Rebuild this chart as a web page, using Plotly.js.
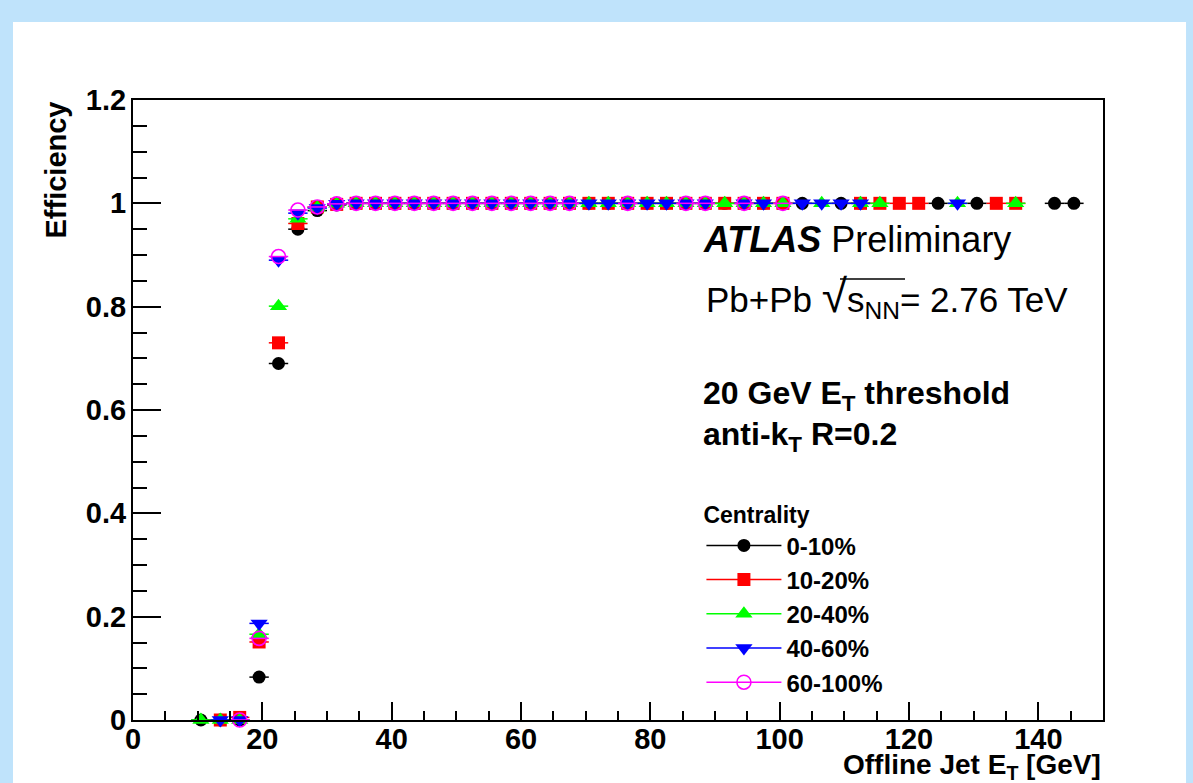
<!DOCTYPE html>
<html>
<head>
<meta charset="utf-8">
<script src="https://cdn.plot.ly/plotly-3.0.1.min.js"></script>
<style>
html,body{margin:0;padding:0;background:#bfe3fb;}
#chart{width:1193px;height:783px;}
</style>
</head>
<body>
<div id="chart"></div>
<script>
// ---- data ----
const seriesNames = ["0-10%", "10-20%", "20-40%", "40-60%", "60-100%"];
const seriesColors = ["#000000", "#ff0000", "#00ff00", "#0000ff", "#ff00ff"];
const seriesSymbols = ["circle", "square", "triangle-up", "triangle-down", "circle-open"];

// bin centres (GeV), bins are 3 GeV wide
const x_0_10 = [10.5,13.5,16.5,19.5,22.5,25.5,28.5,31.5,34.5,37.5,40.5,43.5,46.5,49.5,52.5,55.5,58.5,61.5,64.5,67.5,70.5,73.5,76.5,79.5,82.5,85.5,88.5,91.5,94.5,97.5,100.5,103.5,109.5,112.5,124.5,130.5,142.5,145.5];
const y_0_10 = [0,0,0,0.083,0.690,0.950,0.986,0.997,1,1,1,1,1,1,1,1,1,1,1,1,1,1,1,1,1,1,1,1,1,1,1,1,1,1,1,1,1,1];

const x_10_20 = [13.5,16.5,19.5,22.5,25.5,28.5,31.5,34.5,37.5,40.5,43.5,46.5,49.5,52.5,55.5,58.5,61.5,64.5,67.5,70.5,73.5,76.5,79.5,82.5,85.5,88.5,91.5,94.5,97.5,100.5,112.5,115.5,118.5,121.5,133.5,136.5];
const y_10_20 = [0,0.005,0.151,0.730,0.961,0.993,0.998,1,1,1,1,1,1,1,1,1,1,1,1,1,1,1,1,1,1,1,1,1,1,1,1,1,1,1,1,1];

const x_20_40 = [10.5,13.5,16.5,19.5,22.5,25.5,28.5,31.5,34.5,37.5,40.5,43.5,46.5,49.5,52.5,55.5,58.5,61.5,64.5,67.5,70.5,73.5,76.5,79.5,82.5,85.5,88.5,91.5,94.5,97.5,100.5,106.5,112.5,115.5,127.5,136.5];
const y_20_40 = [0,0,0,0.166,0.801,0.970,0.992,0.999,1,1,1,1,1,1,1,1,1,1,1,1,1,1,1,1,1,1,1,1,1,1,1,1,1,1,1,1];

const x_40_60 = [13.5,16.5,19.5,22.5,25.5,28.5,31.5,34.5,37.5,40.5,43.5,46.5,49.5,52.5,55.5,58.5,61.5,64.5,67.5,70.5,73.5,76.5,79.5,82.5,85.5,88.5,94.5,97.5,103.5,106.5,109.5,112.5,127.5];
const y_40_60 = [0,0,0.187,0.890,0.981,0.991,0.999,1,1,1,1,1,1,1,1,1,1,1,1,1,1,1,1,1,1,1,1,1,1,1,1,1,1];

const x_60_100 = [16.5,19.5,22.5,25.5,28.5,31.5,34.5,37.5,40.5,43.5,46.5,49.5,52.5,55.5,58.5,61.5,64.5,67.5,76.5,85.5,88.5,94.5,100.5];
const y_60_100 = [0,0.158,0.897,0.987,0.993,0.999,1,1,1,1,1,1,1,1,1,1,1,1,1,1,1,1,1];

const binHalfWidth = 1.5;

const xs = [x_0_10, x_10_20, x_20_40, x_40_60, x_60_100];
const ys = [y_0_10, y_10_20, y_20_40, y_40_60, y_60_100];
const markerSizes = [13, 13, 15, 15, 14];

const FONT = "Liberation Sans, Arial, Helvetica, sans-serif";

const traces = [];
for (let i = 0; i < seriesNames.length; i++) {
  traces.push({
    type: "scatter", mode: "markers", name: seriesNames[i], showlegend: false,
    x: xs[i], y: ys[i],
    marker: {symbol: seriesSymbols[i], color: seriesColors[i], size: markerSizes[i],
             line: {color: seriesColors[i], width: seriesSymbols[i] === "circle-open" ? 1.6 : 0}},
    error_x: {type: "constant", value: binHalfWidth, color: seriesColors[i], thickness: 1.5, width: 0},
    cliponaxis: false
  });
}
// legend-only entries (marker + line, as in the reference legend)
for (let i = 0; i < seriesNames.length; i++) {
  traces.push({
    type: "scatter", mode: "lines+markers", name: seriesNames[i], showlegend: true,
    x: [null], y: [null],
    line: {color: seriesColors[i], width: 1.5},
    marker: {symbol: seriesSymbols[i], color: seriesColors[i], size: markerSizes[i],
             line: {color: seriesColors[i], width: seriesSymbols[i] === "circle-open" ? 1.6 : 0}}
  });
}

const axisCommon = {
  showgrid: false, zeroline: false, showline: true, linecolor: "#000", linewidth: 2,
  mirror: true, ticks: "inside", tickcolor: "#000", tickwidth: 2,
  tickfont: {family: FONT, size: 29, color: "#000", weight: "bold"}
};

const layout = {
  width: 1193, height: 783,
  margin: {l: 133, r: 90, t: 100, b: 63, pad: 0},
  paper_bgcolor: "#bfe3fb", plot_bgcolor: "#ffffff",
  showlegend: true,
  xaxis: Object.assign({}, axisCommon, {
    range: [0, 150], dtick: 20, tick0: 0, ticklen: 18, ticklabelstandoff: -8,
    minor: {ticks: "inside", dtick: 5, ticklen: 9, tickwidth: 2, tickcolor: "#000", showgrid: false}
  }),
  yaxis: Object.assign({}, axisCommon, {
    range: [0, 1.2], dtick: 0.2, tick0: 0, ticklen: 28, ticklabelstandoff: -1,
    minor: {ticks: "inside", dtick: 0.05, ticklen: 14, tickwidth: 2, tickcolor: "#000", showgrid: false}
  }),
  legend: {
    x: 0.586, y: 0.3655, xanchor: "left", yanchor: "top",
    bgcolor: "rgba(0,0,0,0)", borderwidth: 0,
    itemwidth: 75, itemclick: false, itemdoubleclick: false,
    font: {family: FONT, size: 24, color: "#000", weight: "bold"},
    title: {text: "<b>Centrality</b>", font: {family: FONT, size: 23, color: "#000"}}
  },
  shapes: [
    {type: "rect", xref: "paper", yref: "paper", x0: -0.1237, x1: 1.0856, y0: -0.11, y1: 1.1258,
     fillcolor: "#ffffff", line: {width: 0}, layer: "below"},
    {type: "line", xref: "paper", yref: "paper", x0: (840-133)/970, x1: (905-133)/970,
     y0: (720-279)/620, y1: (720-279)/620, line: {color: "#000", width: 1.5}}
  ],
  annotations: [
    {xref: "paper", yref: "paper", x: (701-133)/970, y: (720-239)/620, xanchor: "left", yanchor: "middle",
     showarrow: false, text: "<b><i>ATLAS</i></b> Preliminary",
     font: {family: FONT, size: 36, color: "#000"}},
    {xref: "paper", yref: "paper", x: (704-133)/970, y: (720-297)/620, xanchor: "left", yanchor: "middle",
     showarrow: false, text: "Pb+Pb <span style='font-size:46px'>√</span>s<sub>NN</sub>= 2.76 TeV",
     font: {family: FONT, size: 35, color: "#000"}},
    {xref: "paper", yref: "paper", x: (701-133)/970, y: (720-395)/620, xanchor: "left", yanchor: "middle",
     showarrow: false, text: "<b>20 GeV E<sub>T</sub> threshold</b>",
     font: {family: FONT, size: 32, color: "#000"}},
    {xref: "paper", yref: "paper", x: (701-133)/970, y: (720-436)/620, xanchor: "left", yanchor: "middle",
     showarrow: false, text: "<b>anti-k<sub>T</sub> R=0.2</b>",
     font: {family: FONT, size: 32, color: "#000"}},
    {xref: "paper", yref: "paper", x: (1103-133)/970, y: (720-767)/620, xanchor: "right", yanchor: "middle",
     showarrow: false, text: "<b>Offline Jet E<sub>T</sub> [GeV]</b>",
     font: {family: FONT, size: 28, color: "#000"}},
    {xref: "paper", yref: "paper", x: (55-133)/970, y: 1.0, xanchor: "center", yanchor: "top",
     textangle: -90, showarrow: false, text: "<b>Efficiency</b>",
     font: {family: FONT, size: 29, color: "#000"}}
  ]
};

Plotly.newPlot("chart", traces, layout, {staticPlot: true, displayModeBar: false});
</script>
</body>
</html>
